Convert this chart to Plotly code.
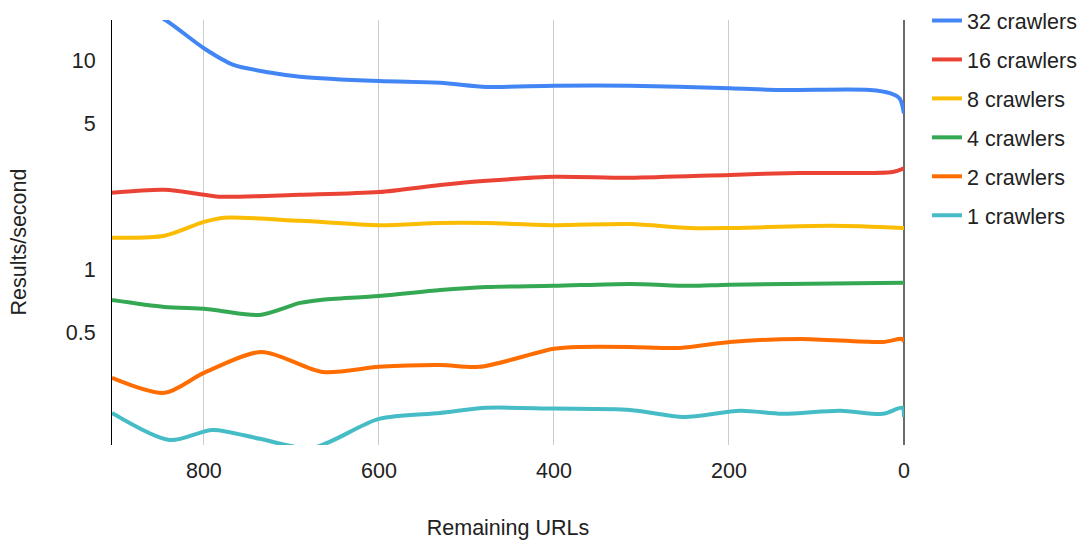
import plotly.graph_objects as go

# Remaining-URL sample positions and results/second per crawler count
x_32 = [905, 843, 800, 767, 725, 690, 600, 530, 477, 400, 313, 199, 142, 39, 16, 5, 0]
y_32 = [22.0, 15.6, 11.5, 9.6, 8.8, 8.4, 8.0, 7.85, 7.5, 7.6, 7.6, 7.4, 7.25, 7.25, 7.0, 6.6, 5.6]

x_16 = [905, 845, 800, 780, 690, 600, 530, 477, 400, 313, 199, 120, 13, 0]
y_16 = [2.33, 2.41, 2.28, 2.23, 2.28, 2.35, 2.54, 2.66, 2.78, 2.75, 2.84, 2.90, 2.93, 3.05]

x_8 = [905, 845, 800, 777, 690, 600, 530, 477, 400, 313, 245, 199, 82, 0]
y_8 = [1.42, 1.45, 1.69, 1.77, 1.71, 1.63, 1.67, 1.67, 1.63, 1.65, 1.58, 1.58, 1.62, 1.58]

x_4 = [905, 845, 800, 780, 736, 690, 667, 600, 530, 477, 400, 313, 245, 199, 0]
y_4 = [0.714, 0.661, 0.647, 0.632, 0.605, 0.691, 0.714, 0.746, 0.797, 0.824, 0.834, 0.852, 0.834, 0.845, 0.862]

x_2 = [905, 845, 800, 734, 664, 600, 530, 485, 400, 370, 313, 256, 199, 119, 24, 2, 0]
y_2 = [0.302, 0.256, 0.319, 0.402, 0.322, 0.341, 0.348, 0.341, 0.416, 0.425, 0.425,
       0.420, 0.449, 0.464, 0.449, 0.464, 0.449]

x_1 = [905, 839, 790, 736, 677, 600, 530, 477, 400, 313, 252, 187, 139, 73, 24, 2, 0]
y_1 = [0.205, 0.152, 0.170, 0.154, 0.139, 0.192, 0.205, 0.217, 0.215, 0.212, 0.196, 0.210,
       0.203, 0.210, 0.203, 0.217, 0.196]

series_names = ["32 crawlers", "16 crawlers", "8 crawlers", "4 crawlers", "2 crawlers", "1 crawlers"]
series_x = [x_32, x_16, x_8, x_4, x_2, x_1]
series_y = [y_32, y_16, y_8, y_4, y_2, y_1]
colors = ["#4285F4", "#EA4335", "#FBBC04", "#34A853", "#FF6D01", "#46BDC6"]

x_ticks = [800, 600, 400, 200, 0]
y_ticks = [0.5, 1, 5, 10]

FONT = "Liberation Sans, Arial, sans-serif"
FS = 21.5

fig = go.Figure()
for name, xs, ys, c in zip(series_names, series_x, series_y, colors):
    fig.add_trace(go.Scatter(
        x=xs, y=ys, name=name, mode="lines",
        line=dict(color=c, width=4, shape="spline", smoothing=0.8),
        legendgroup=name,
    ))

fig.update_layout(
    width=1086, height=544,
    margin=dict(l=112, r=182, t=20, b=99, autoexpand=False),
    paper_bgcolor="white", plot_bgcolor="white",
    font=dict(family=FONT, size=FS, color="#222222"),
    showlegend=True,
    legend=dict(
        x=1.029, xanchor="left", y=1.047, yanchor="top",
        font=dict(size=FS, color="#222222"),
        tracegroupgap=8, itemwidth=30,
        bgcolor="rgba(0,0,0,0)",
    ),
    xaxis=dict(
        range=[905, 0],
        tickvals=x_ticks, ticktext=[str(v) for v in x_ticks],
        showgrid=True, gridcolor="#cccccc", gridwidth=1,
        zeroline=True, zerolinecolor="#6b6b6b", zerolinewidth=2,
        showline=False, ticks="", ticklabelstandoff=10,
        title=dict(text="Remaining URLs", standoff=38, font=dict(size=FS)),
        tickfont=dict(size=FS),
    ),
    yaxis=dict(
        type="log",
        range=[-0.842, 1.196],
        tickvals=y_ticks, ticktext=[str(v) for v in y_ticks],
        showgrid=False, zeroline=False,
        showline=True, linecolor="#000000", linewidth=1,
        ticks="", ticklabelstandoff=11,
        tickfont=dict(size=FS),
    ),
    annotations=[dict(
        text="Results/second", textangle=-90, showarrow=False,
        xref="paper", yref="paper", x=-0.1174, y=0.4765,
        xanchor="center", yanchor="middle",
        font=dict(size=FS, color="#222222"),
    )],
)

fig.write_html("out.html")
